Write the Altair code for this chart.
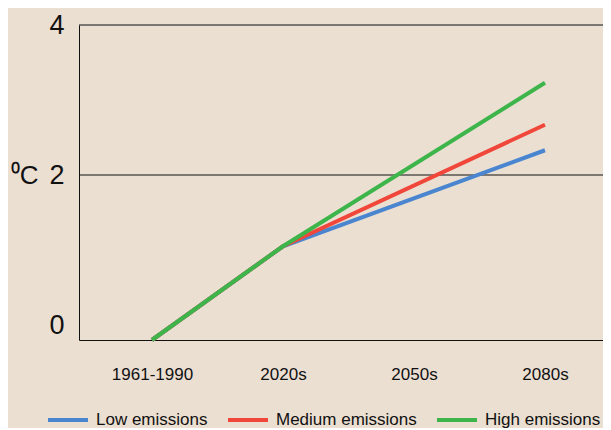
import altair as alt
import pandas as pd

# ---- data ----
periods = ["1961-1990", "2020s", "2050s", "2080s"]
line_periods = ["1961-1990", "2020s", "2080s"]
series = ["Low emissions", "Medium emissions", "High emissions"]
colors = ["#4a86cf", "#f0473a", "#3db54a"]
low = [-0.2, 1.05, 2.33]
medium = [-0.2, 1.05, 2.67]
high = [-0.2, 1.05, 3.23]
y_ticks = [0, 2, 4]
grid_values = [2, 4]

rows = []
for name, vals in zip(series, [low, medium, high]):
    for p, v in zip(line_periods, vals):
        rows.append({"period": p, "temp": v, "scenario": name})
df = pd.DataFrame(rows)
grid_df = pd.DataFrame({"g": grid_values})

font = "Liberation Sans"
ink = "#111111"
yscale = alt.Scale(domain=[-0.2, 4], nice=False, zero=False)

y_axis = alt.Axis(
    values=y_ticks, title="⁰C", titleAngle=0, titleAlign="right", titleBaseline="middle",
    titleX=-41, titleY=150, titleFontSize=26, titleFontWeight="normal", titleColor=ink,
    titleFont=font, labelFont=font, labelFontSize=27, labelColor=ink, labelPadding=15,
    ticks=False, grid=False, domainColor=ink, domainWidth=1,
)

rules = alt.Chart(grid_df).mark_rule(color=ink, strokeWidth=1).encode(
    y=alt.Y("g:Q", scale=yscale, axis=y_axis)
)

lines = alt.Chart(df).mark_line(strokeWidth=4, strokeCap="butt").encode(
    x=alt.X(
        "period:N",
        sort=periods,
        scale=alt.Scale(type="point", domain=periods, padding=0.5, align=0.557),
        axis=alt.Axis(title=None, labelAngle=0, ticks=False, labelPadding=26,
                      labelFontSize=17, labelFont=font, labelColor=ink,
                      domainColor=ink, domainWidth=1, grid=False),
    ),
    y=alt.Y("temp:Q", scale=yscale, axis=y_axis),
    color=alt.Color(
        "scenario:N",
        sort=series,
        scale=alt.Scale(domain=series, range=colors),
        legend=alt.Legend(
            title=None, orient="none", legendX=-33, legendY=373, direction="horizontal",
            symbolType="stroke", symbolSize=1600, symbolStrokeWidth=4,
            labelFontSize=17, labelFont=font, labelColor=ink, labelOffset=6,
            columnPadding=12, padding=0,
        ),
    ),
    detail="scenario:N",
)

chart = alt.layer(rules, lines).properties(
    width=524,
    height=315,
    autosize=alt.AutoSizeParams(type="none"),
    padding={"left": 71, "top": 17, "right": 0, "bottom": 88},
    background="#ebdfd2",
).configure_view(strokeWidth=0).configure(font=font)

chart.save("out.html", embed_options={"renderer": "svg", "actions": False})
